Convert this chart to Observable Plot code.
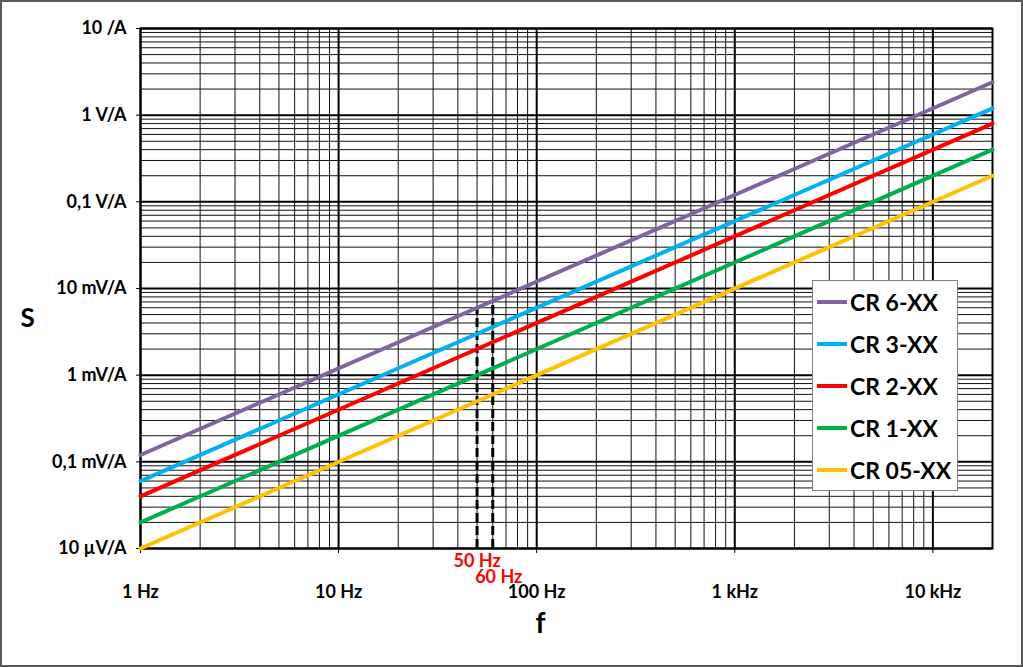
<!DOCTYPE html>
<html><head><meta charset="utf-8">
<script src="https://cdn.jsdelivr.net/npm/d3@7"></script>
<script src="https://cdn.jsdelivr.net/npm/@observablehq/plot@0.6"></script>
<style>
html,body{margin:0;padding:0;background:#fff;}
#wrap{position:relative;width:1023px;height:667px;overflow:hidden;}
#wrap svg{display:block;}
#border{position:absolute;left:0;top:0;width:1023px;height:667px;box-sizing:border-box;border:2px solid #595959;pointer-events:none;}
#legend{position:absolute;left:812px;top:280px;width:146px;height:211px;box-sizing:border-box;border:1px solid #7f7f7f;background:#fff;font:bold 23px Lato,sans-serif;color:#000;}
.row{position:absolute;left:4px;height:26px;display:flex;align-items:center;white-space:nowrap;}
.sw{width:30px;height:4px;margin-right:3px;}
</style></head>
<body><div id="wrap"></div>
<script>
// ---- data ----
const series = ["CR 6-XX", "CR 3-XX", "CR 2-XX", "CR 1-XX", "CR 05-XX"];
const colors = ["#8064A2", "#00B0F0", "#FF0000", "#00B050", "#FFC000"];
const freqRange = [1, 20000];
const sensAt1Hz = [1.2e-4, 6e-5, 4e-5, 2e-5, 1e-5];
const sensAt20kHz = [2.4, 1.2, 0.8, 0.4, 0.2];
const markerFreqs = [50, 60];
const markerLabels = ["50 Hz", "60 Hz"];
const markerTops = [6e-3, 7.2e-3];
const xTicks = [1, 10, 100, 1000, 10000];
const xTickLabels = ["1 Hz", "10 Hz", "100 Hz", "1 kHz", "10 kHz"];
const yDomain = [1e-5, 10];
const yTicks = [1e-5, 1e-4, 1e-3, 1e-2, 1e-1, 1, 10];
const yTickLabels = ["10 µV/A", "0,1 mV/A", "1 mV/A", "10 mV/A", "0,1 V/A", "1 V/A", "10 /A"];
const multipliers = [2, 3, 4, 5, 6, 7, 8, 9];

// ---- derived tables ----
const rows = series.flatMap((s, i) => [
  {s, f: freqRange[0], v: sensAt1Hz[i]},
  {s, f: freqRange[1], v: sensAt20kHz[i]}
]);
const xMinor = xTicks.flatMap(d => multipliers.map(m => d * m)).filter(v => v < freqRange[1]);
const yMinor = yTicks.flatMap(d => multipliers.map(m => d * m)).filter(v => v < yDomain[1]);
const markers = markerFreqs.map((f, i) => ({f, top: markerTops[i], label: markerLabels[i]}));

const chart = Plot.plot({
  width: 1023,
  height: 667,
  marginLeft: 140,
  marginRight: 31,
  marginTop: 28,
  marginBottom: 119,
  style: {fontFamily: "Lato, sans-serif", fontWeight: "bold", fontSize: "18px", color: "#000", background: "transparent"},
  x: {type: "log", domain: freqRange, ticks: xTicks, tickFormat: d => xTickLabels[xTicks.indexOf(d)], tickSize: 5, tickPadding: 32, label: null},
  y: {type: "log", domain: yDomain, ticks: yTicks, tickFormat: d => yTickLabels[yTicks.indexOf(d)], tickSize: 4, tickPadding: 10, label: null},
  color: {domain: series, range: colors},
  marks: [
    Plot.ruleX(xMinor, {x: d => d, stroke: "#111", strokeWidth: 1}),
    Plot.ruleY(yMinor, {y: d => d, stroke: "#111", strokeWidth: 1}),
    Plot.ruleX(xTicks, {x: d => d, stroke: "#000", strokeWidth: 2}),
    Plot.ruleY(yTicks, {y: d => d, stroke: "#000", strokeWidth: 2}),
    Plot.frame({stroke: "#000", strokeWidth: 2}),
    Plot.ruleX(markers, {x: "f", y1: yDomain[0], y2: "top", stroke: "#000", strokeWidth: 3, strokeDasharray: "9,4"}),
    Plot.line(rows, {x: "f", y: "v", z: "s", stroke: "s", strokeWidth: 4}),
    Plot.text([markers[0]], {x: "f", y: yDomain[0], text: "label", fill: "#FF0000", dy: 13, fontSize: 18}),
    Plot.text([markers[1]], {x: "f", y: yDomain[0], text: "label", fill: "#FF0000", dy: 29, dx: 6, fontSize: 18}),
    Plot.text(["S"], {frameAnchor: "left", text: d => d, textAnchor: "middle", dx: -113, dy: 30, fontSize: 26}),
    Plot.text(["f"], {frameAnchor: "bottom", text: d => d, textAnchor: "middle", dx: -26, dy: 84, fontSize: 28})
  ]
});

const wrap = document.getElementById("wrap");
wrap.appendChild(chart);

// legend overlay
const legend = document.createElement("div");
legend.id = "legend";
const centers = [21, 63, 105, 147, 189];
series.forEach((s, i) => {
  const r = document.createElement("div");
  r.className = "row";
  r.style.top = (centers[i] - 13) + "px";
  const sw = document.createElement("span");
  sw.className = "sw";
  sw.style.background = colors[i];
  const t = document.createElement("span");
  t.textContent = s;
  r.appendChild(sw); r.appendChild(t);
  legend.appendChild(r);
});
wrap.appendChild(legend);
const border = document.createElement("div");
border.id = "border";
wrap.appendChild(border);
</script>
</body></html>
